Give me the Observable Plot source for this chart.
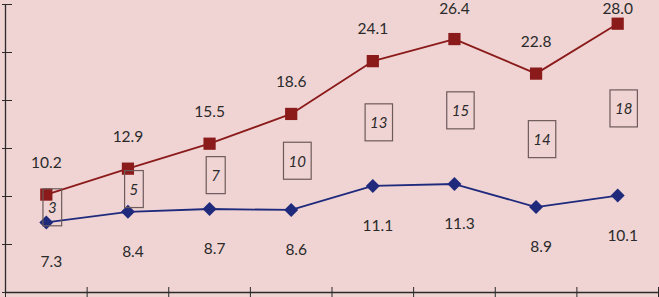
<!DOCTYPE html>
<html><head><meta charset="utf-8">
<script src="https://cdn.jsdelivr.net/npm/d3@7"></script>
<script src="https://cdn.jsdelivr.net/npm/@observablehq/plot@0.6"></script>
<style>
html,body{margin:0;padding:0;background:#f0d4d4;overflow:hidden;}
</style></head><body><div id="chart"></div>
<script>
const categories = [1, 2, 3, 4, 5, 6, 7, 8];
const seriesA = [10.2, 12.9, 15.5, 18.6, 24.1, 26.4, 22.8, 28.0];
const seriesB = [7.3, 8.4, 8.7, 8.6, 11.1, 11.3, 8.9, 10.1];
const gaps = [3, 5, 7, 10, 13, 15, 14, 18];
const yTicks = [0, 5, 10, 15, 20, 25, 30];
const xTicks = [0, 1, 2, 3, 4, 5, 6, 7, 8];

const rows = categories.map((c, i) => ({
  pos: c - 0.5, a: seriesA[i], b: seriesB[i], gap: gaps[i],
  mid: (seriesA[i] + seriesB[i]) / 2
}));

const red = "#8b1a1a", blue = "#1f2a7c", ink = "#2a2a2a";
const topRows = rows.filter(d => d.a > 25);
const otherRows = rows.filter(d => d.a <= 25);

const chart = Plot.plot({
  width: 659, height: 297,
  marginLeft: 5, marginRight: 1, marginTop: 4, marginBottom: 5,
  style: {background: "#f0d4d4", fontFamily: "Lato, 'Open Sans', sans-serif", color: ink},
  x: {domain: [0, 8]},
  y: {domain: [0, 30]},
  marks: [
    Plot.axisY(yTicks, {tickSize: 10, dx: 7, tickFormat: () => "", label: null, stroke: ink}),
    Plot.axisX(xTicks, {tickSize: 10, dy: -5, tickFormat: () => "", label: null, stroke: ink}),
    Plot.ruleX([0], {stroke: ink, strokeWidth: 1.3}),
    Plot.ruleY([0], {stroke: ink, strokeWidth: 1.3}),
    Plot.line(rows, {x: "pos", y: "a", stroke: red, strokeWidth: 1.8}),
    Plot.line(rows, {x: "pos", y: "b", stroke: blue, strokeWidth: 1.8}),
    Plot.dot(rows, {x: "pos", y: "a", symbol: "square", r: 6.9, fill: red}),
    Plot.dot(rows, {x: "pos", y: "b", symbol: "diamond2", r: 6.3, fill: blue}),
    Plot.text(otherRows, {x: "pos", y: "a", text: d => d.a.toFixed(1), dy: -32, fontSize: 15.5, fill: ink}),
    Plot.text(topRows, {x: "pos", text: d => d.a.toFixed(1), frameAnchor: "top", lineAnchor: "top", dy: -2, fontSize: 15.5, fill: ink}),
    Plot.text(rows, {x: "pos", y: "b", text: d => d.b.toFixed(1), dy: 40, dx: 5, fontSize: 15.5, fill: ink}),
    Plot.text(rows, {x: "pos", y: "mid", text: "gap", dx: 6, fontSize: 15, fontStyle: "italic", fill: ink})
  ]
});
document.getElementById("chart").append(chart);

// draw a box around each gap label
chart.querySelectorAll('g[font-style="italic"] text').forEach(t => {
  const b = t.getBBox();
  const cy = b.y + b.height / 2;
  const r = document.createElementNS("http://www.w3.org/2000/svg", "rect");
  r.setAttribute("x", b.x - 5);
  r.setAttribute("width", b.width + 10);
  r.setAttribute("y", cy - 18.5);
  r.setAttribute("height", 37);
  r.setAttribute("fill", "none");
  r.setAttribute("stroke", "#6e5a5a");
  r.setAttribute("stroke-width", "1.2");
  if (t.getAttribute("transform")) r.setAttribute("transform", t.getAttribute("transform"));
  t.parentNode.insertBefore(r, t);
});
</script></body></html>
